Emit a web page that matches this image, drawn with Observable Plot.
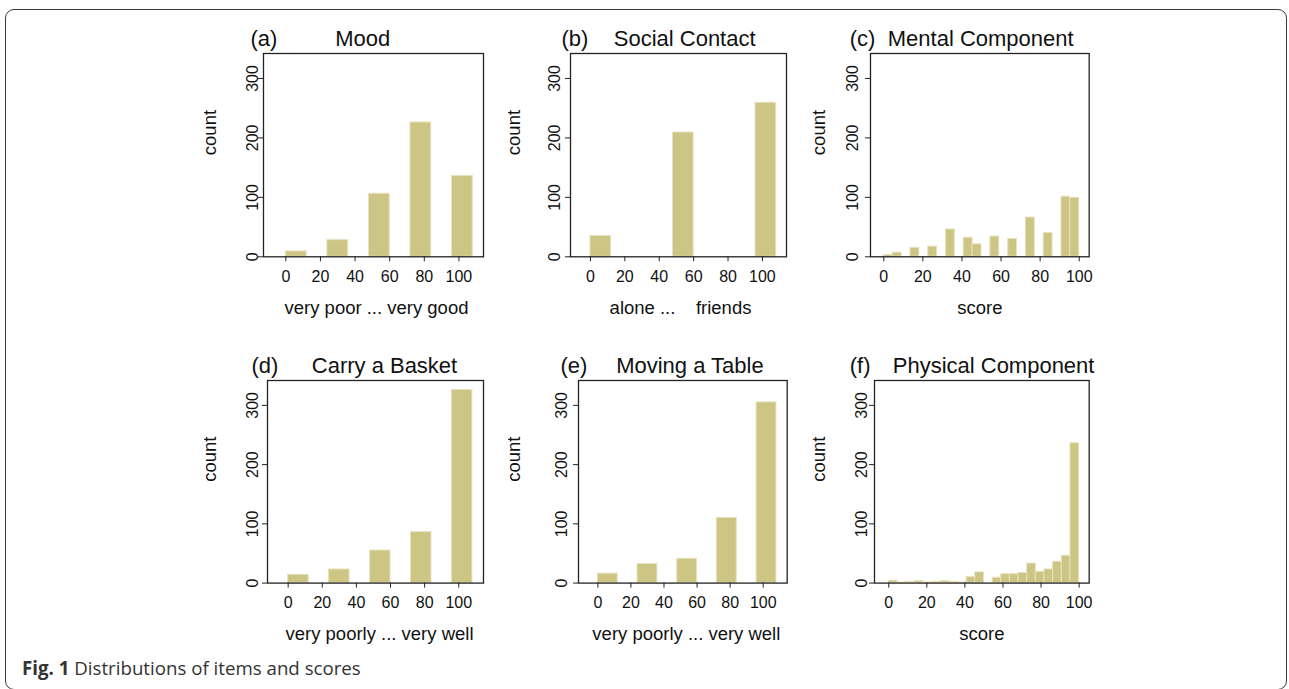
<!DOCTYPE html>
<html>
<head>
<meta charset="utf-8">
<script src="https://cdn.jsdelivr.net/npm/d3@7"></script>
<script src="https://cdn.jsdelivr.net/npm/@observablehq/plot@0.6"></script>
<style>
html, body { margin: 0; padding: 0; background: #fff; }
#page { position: relative; width: 1289px; height: 689px; overflow: hidden; background: #fff; }
#box { position: absolute; left: 5px; top: 9px; width: 1282px; height: 681px; border: 1.5px solid #3a3a3a; border-radius: 9px; box-sizing: border-box; }
.panel { position: absolute; }
#caption { position: absolute; left: 22px; top: 659.4px; font-family: "Open Sans", sans-serif; font-size: 18.7px; line-height: 18.7px; color: #333; white-space: nowrap; }
#caption b { font-weight: 700; }
</style>
</head>
<body>
<div id="page">
  <div id="box"></div>
  <div id="caption"><b>Fig. 1</b> Distributions of items and scores</div>
</div>
<script>
// ---------------- data ----------------
// item histograms: 5 bins (breaks every 12 units)
const itemBinLo = [0, 24, 48, 72, 96];
const itemBinHi = [12, 36, 60, 84, 108];
const moodCounts    = [9, 28, 106, 226, 136];
const socialCounts  = [35, 0, 209, 0, 259];
const basketCounts  = [14, 23, 55, 86, 326];
const tableCounts   = [16, 32, 41, 110, 305];

// score histograms: 22 bins from 0 to 100
const scoreBinEdges = [0, 4.55, 9.09, 13.64, 18.18, 22.73, 27.27, 31.82, 36.36, 40.91, 45.45, 50,
                       54.55, 59.09, 63.64, 68.18, 72.73, 77.27, 81.82, 86.36, 90.91, 95.45, 100];
const mentalCounts   = [3, 7, 0, 15, 0, 17, 0, 46, 0, 32, 21, 0, 34, 0, 30, 0, 66, 0, 40, 0, 101, 99];
const physicalCounts = [4, 1, 2, 3, 1, 2, 3, 2, 1, 10, 18, 0, 9, 15, 15, 17, 33, 19, 23, 36, 46, 236];

const xTicks = [0, 20, 40, 60, 80, 100];
const yTicks = [0, 100, 200, 300];

const panelTags   = ["(a)", "(b)", "(c)", "(d)", "(e)", "(f)"];
const panelTitles = ["Mood", "Social Contact", "Mental Component", "Carry a Basket", "Moving a Table", "Physical Component"];
const xLabels     = ["very poor ... very good", "alone ...\u00a0\u00a0\u00a0\u00a0friends", "score",
                     "very poorly ... very well", "very poorly ... very well", "score"];
const countLabel = "count";

// ---------------- layout ----------------
const scoreLo = scoreBinEdges.slice(0, -1);
const scoreHi = scoreBinEdges.slice(1);
const panels = [
  {lo: itemBinLo, hi: itemBinHi, counts: moodCounts,     frame: [263.3, 52.7, 483.3, 256],   xdom: [-12.9, 114.2], tagDx: -13,   titleDx: 71.7, countDx: -53.8, xlDx: 3, ytp: 1},
  {lo: itemBinLo, hi: itemBinHi, counts: socialCounts,   frame: [570, 52.7, 786, 256],       xdom: [-11.6, 114.0], tagDx: -9,    titleDx: 43.3, countDx: -56.7, xlDx: 2, ytp: 6},
  {lo: scoreLo,   hi: scoreHi,   counts: mentalCounts,   frame: [870, 52.7, 1088.7, 256],    xdom: [-6.8, 105.1],  tagDx: -20.7, titleDx: 17.3, countDx: -51.7, xlDx: 0, ytp: 7},
  {lo: itemBinLo, hi: itemBinHi, counts: basketCounts,   frame: [266.7, 379.7, 482.7, 582.3], xdom: [-12.1, 114.5], tagDx: -16,   titleDx: 44.3, countDx: -57.2, xlDx: 4, ytp: 5},
  {lo: itemBinLo, hi: itemBinHi, counts: tableCounts,    frame: [578, 379.7, 786.7, 582.3],   xdom: [-11.7, 114.5], tagDx: -18,   titleDx: 37.7, countDx: -64.7, xlDx: 3.5, ytp: 6},
  {lo: scoreLo,   hi: scoreHi,   counts: physicalCounts, frame: [874, 379.7, 1088.7, 582.3],  xdom: [-7.5, 105.3],  tagDx: -24.7, titleDx: 18.3, countDx: -55.7, xlDx: 0, ytp: 2}
];

const barFill = "#CDC584";
const barEdge = "#E6E1BE";
const ink = "#111";
const font = "'Liberation Sans', Arial, Helvetica, sans-serif";
const mL = 80, mT = 45, mR = 30, mB = 75;

const page = document.getElementById("page");
panels.forEach((p, k) => {
  const [L, T, R, B] = p.frame;
  const W = R - L, H = B - T;
  const rows = p.counts.map((n, i) => ({lo: p.lo[i], hi: p.hi[i], n})).filter(d => d.n > 0);
  const chart = Plot.plot({
    width: W + mL + mR,
    height: H + mT + mB,
    marginLeft: mL, marginTop: mT, marginRight: mR, marginBottom: mB,
    style: {background: "transparent", overflow: "visible", fontFamily: font, fontSize: "16px", color: ink},
    x: {domain: p.xdom},
    y: {domain: [0, 342]},
    marks: [
      Plot.rect(rows, {x1: "lo", x2: "hi", y1: 0, y2: "n", fill: barFill, stroke: barEdge, strokeWidth: 1}),
      Plot.frame({stroke: "#222", strokeWidth: 1.3}),
      Plot.axisX(xTicks, {tickSize: 5, tickPadding: 9, label: null, fontSize: 16, stroke: "#222"}),
      Plot.axisY(yTicks, {tickSize: 5, tickRotate: -90, tickPadding: p.ytp, label: null, fontSize: 16, stroke: "#222"}),
      Plot.text([panelTags[k]], {text: d => d, frameAnchor: "top-left", textAnchor: "start", lineAnchor: "bottom", dx: p.tagDx, dy: -7.7, fontSize: 22}),
      Plot.text([panelTitles[k]], {text: d => d, frameAnchor: "top-left", textAnchor: "start", lineAnchor: "bottom", dx: p.titleDx, dy: -7.7, fontSize: 22}),
      Plot.text([xLabels[k]], {text: d => d, frameAnchor: "bottom", lineAnchor: "bottom", dx: p.xlDx, dy: 57, fontSize: 18.5}),
      Plot.text([countLabel], {text: d => d, frameAnchor: "left", rotate: -90, dx: p.countDx, fontSize: 18.5})
    ]
  });
  chart.classList.add("panel");
  chart.style.left = (L - mL) + "px";
  chart.style.top = (T - mT) + "px";
  page.appendChild(chart);
});
</script>
</body>
</html>
